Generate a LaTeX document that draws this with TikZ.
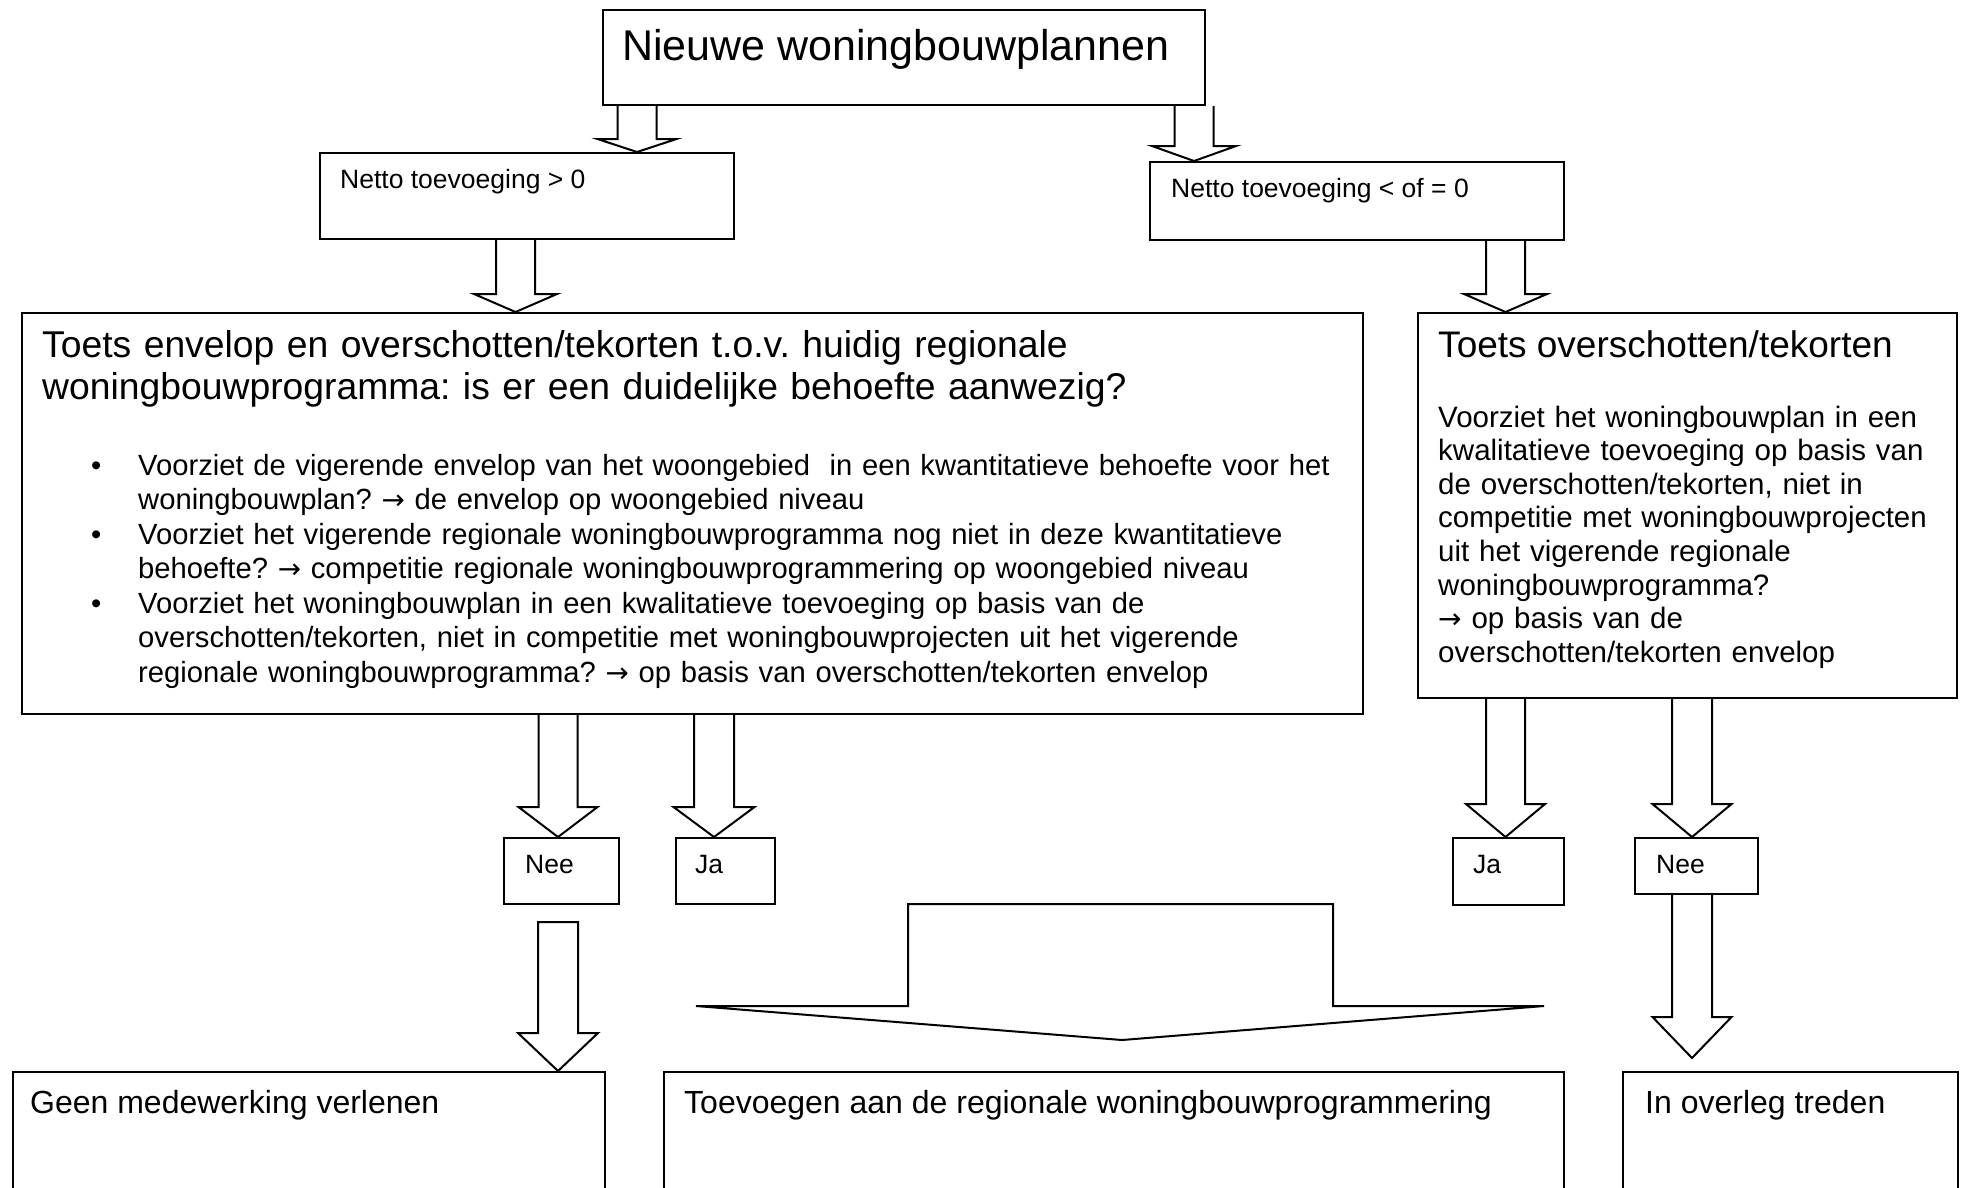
\documentclass[tikz,border=0pt]{standalone}
\usepackage{fontspec}
\setmainfont{Liberation Sans}
\newfontfamily\arrowfont{DejaVu Sans}
\newcommand\rarr{{\arrowfont\scalebox{0.95}{→}}}
\frenchspacing
\usetikzlibrary{calc}
% block arrow: #1 x centre, #2 start point, #3 tip point, #4 shaft half width, #5 head half width, #6 head length
\newcommand\barrow[6]{%
  \draw[blk] let \p1=(#2), \p2=(#3) in
    ({(#1-#4)*1pt},\y1) -- ({(#1-#4)*1pt},{\y2+#6*1pt}) -- ({(#1-#5)*1pt},{\y2+#6*1pt})
    -- ({#1*1pt},\y2) -- ({(#1+#5)*1pt},{\y2+#6*1pt}) -- ({(#1+#4)*1pt},{\y2+#6*1pt})
    -- ({(#1+#4)*1pt},\y1);}
\newcommand\barrowc[6]{%
  \draw[blk] let \p1=(#2), \p2=(#3) in
    ({(#1-#4)*1pt},\y1) -- ({(#1-#4)*1pt},{\y2+#6*1pt}) -- ({(#1-#5)*1pt},{\y2+#6*1pt})
    -- ({#1*1pt},\y2) -- ({(#1+#5)*1pt},{\y2+#6*1pt}) -- ({(#1+#4)*1pt},{\y2+#6*1pt})
    -- ({(#1+#4)*1pt},\y1) -- cycle;}
\begin{document}
\frenchspacing
\begin{tikzpicture}[x=1pt,y=-1pt,
  box/.style={draw, line width=2pt, inner sep=0pt, anchor=north west},
  txt/.style={inner sep=0pt, anchor=base west},
  mtxt/.style={inner sep=0pt, anchor=base west, align=left, text width=#1},
  blk/.style={draw, line width=2pt, line join=miter},
  fsmall/.style={font=\fontsize{26.5}{30}\selectfont},
  fbottom/.style={font=\fontsize{32}{37}\selectfont}]
\useasboundingbox (0,0) rectangle (1961,1187);
\clip (0,0) rectangle (1961,1187);

% boxes
\node[box, minimum width=602pt, minimum height=95pt] (top) at (602,9) {};
\node[box, minimum width=414pt, minimum height=86pt] (net1) at (319,152) {};
\node[box, minimum width=414pt, minimum height=78pt] (net2) at (1149,161) {};
\node[box, minimum width=1341pt, minimum height=401pt] (bigL) at (21,312) {};
\node[box, minimum width=539pt, minimum height=385pt] (bigR) at (1417,312) {};
\node[box, minimum width=115pt, minimum height=66pt] (neeL) at (503,837) {};
\node[box, minimum width=99pt, minimum height=66pt] (jaL) at (675,837) {};
\node[box, minimum width=111pt, minimum height=67pt] (jaR) at (1452,837) {};
\node[box, minimum width=123pt, minimum height=56pt] (neeR) at (1634,837) {};
\node[box, minimum width=592pt, minimum height=140pt] (geen) at (12,1071) {};
\node[box, minimum width=900pt, minimum height=140pt] (toev) at (663,1071) {};
\node[box, minimum width=335pt, minimum height=140pt] (overleg) at (1622,1071) {};

% texts
\node[txt, font=\fontsize{43}{50}\selectfont] (ttop) at (622,60) {Nieuwe woningbouwplannen};
\node[txt, fsmall] (tnet1) at (340,188) {Netto toevoeging > 0};
\node[txt, fsmall] (tnet2) at (1171,197) {Netto toevoeging < of = 0};
\node[mtxt=1300pt, font=\fontsize{37.3}{42}\selectfont] (tbigL) at (42,357)
  {Toets envelop en overschotten/tekorten t.o.v. huidig regionale\\woningbouwprogramma: is er een duidelijke behoefte aanwezig?};
\node[mtxt=1265pt, font=\fontsize{29.2}{34.5}\selectfont] (tbul) at (91,475)
  {\makebox[47pt][l]{•}Voorziet de vigerende envelop van het woongebied~ in een kwantitatieve behoefte voor het\\
   \hspace*{47pt}woningbouwplan? \rarr{} de envelop op woongebied niveau\\
   \makebox[47pt][l]{•}Voorziet het vigerende regionale woningbouwprogramma nog niet in deze kwantitatieve\\
   \hspace*{47pt}behoefte? \rarr{} competitie regionale woningbouwprogrammering op woongebied niveau\\
   \makebox[47pt][l]{•}Voorziet het woningbouwplan in een kwalitatieve toevoeging op basis van de\\
   \hspace*{47pt}overschotten/tekorten, niet in competitie met woningbouwprojecten uit het vigerende\\
   \hspace*{47pt}regionale woningbouwprogramma? \rarr{} op basis van overschotten/tekorten envelop};
\node[txt, font=\fontsize{37}{42}\selectfont] (tbigR) at (1438,357) {Toets overschotten/tekorten};
\node[mtxt=510pt, font=\fontsize{29.5}{33.6}\selectfont] (tbigRb) at (1438,427)
  {Voorziet het woningbouwplan in een\\kwalitatieve toevoeging op basis van\\de overschotten/tekorten, niet in\\competitie met woningbouwprojecten\\uit het vigerende regionale\\woningbouwprogramma?\\\rarr{} op basis van de\\overschotten/tekorten envelop};
\node[txt, fsmall] (tneeL) at (525,873) {Nee};
\node[txt, fsmall] (tjaL) at (695,873) {Ja};
\node[txt, fsmall] (tjaR) at (1473,873) {Ja};
\node[txt, fsmall] (tneeR) at (1656,873) {Nee};
\node[txt, fbottom] (tgeen) at (30,1113) {Geen medewerking verlenen};
\node[txt, fbottom] (ttoev) at (684,1113) {Toevoegen aan de regionale woningbouwprogrammering};
\node[txt, fbottom] (tover) at (1645,1113) {In overleg treden};

% block arrows
\barrow{637}{top.south}{net1.north}{19.5}{39.5}{13}
\barrow{1194}{top.south}{net2.north}{19.5}{42}{15}
\barrow{515.5}{net1.south}{bigL.north}{19.5}{41.5}{18}
\barrow{1505.5}{net2.south}{bigR.north}{19.5}{41.5}{18}
\barrow{558}{bigL.south}{neeL.north}{19.5}{39.5}{30}
\barrow{714}{bigL.south}{jaL.north}{20}{40.5}{30}
\barrow{1505.5}{bigR.south}{jaR.north}{19.5}{39.5}{33}
\barrow{1692}{bigR.south}{neeR.north}{20}{39.5}{33}
\coordinate (ovtip) at (1692,1058);
\barrow{1692}{neeR.south}{ovtip}{20}{39.5}{41}
\coordinate (geentop) at (558,922);
\barrowc{558}{geentop}{geen.north}{20}{40}{38}

% wide arrow to "Toevoegen"
\coordinate (wtip) at (1122,1040);
\draw[blk] (908,904) -- (1333,904) -- (1333,1006) -- (1544,1006) -- (wtip)
  -- (696,1006) -- (908,1006) -- cycle;
\end{tikzpicture}
\end{document}
